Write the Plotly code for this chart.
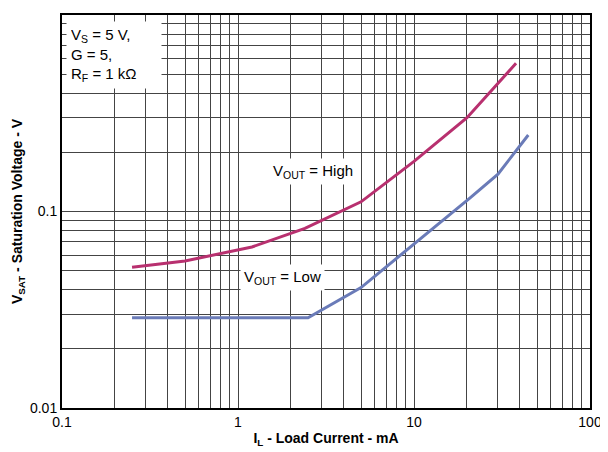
import plotly.graph_objects as go
import numpy as np

# Data
high_current = [0.25, 0.5, 1.2, 2.4, 5.0, 10.0, 20.0, 38.0]
high_vsat = [0.052, 0.056, 0.066, 0.082, 0.112, 0.18, 0.30, 0.568]

low_current = [0.25, 2.5, 5.0, 10.0, 21.0, 30.0, 44.6]
low_vsat = [0.0288, 0.0288, 0.041, 0.068, 0.118, 0.155, 0.245]

x_tickvals = [0.1, 1, 10, 100]
x_ticklabels = ["0.1", "1", "10", "100"]
y_tickvals = [0.01, 0.1, 1]
y_ticklabels = ["0.01", "0.1", "1"]

def minor_vals(lo_exp, hi_exp):
    return [m * 10.0 ** e for e in range(lo_exp, hi_exp) for m in range(2, 10)]

grid_col = "#444444"
font_fam = "Liberation Sans, Arial, sans-serif"

fig = go.Figure()
fig.add_trace(go.Scatter(x=high_current, y=high_vsat, mode="lines",
                         line=dict(color="#B8306F", width=3),
                         showlegend=False))
fig.add_trace(go.Scatter(x=low_current, y=low_vsat, mode="lines",
                         line=dict(color="#6A7BB8", width=3),
                         showlegend=False))

# page body has an 8px margin, so the figure is 600x444 placed at (8, 8)
fig.update_layout(
    width=600, height=444,
    margin=dict(l=54, r=18, t=7, b=44),
    paper_bgcolor="white", plot_bgcolor="white",
    font=dict(family=font_fam, size=14, color="black"),
    xaxis=dict(type="log", range=[-1, 2], tickvals=x_tickvals, ticktext=x_ticklabels,
               showgrid=True, gridcolor=grid_col, gridwidth=1,
               minor=dict(tickvals=minor_vals(-1, 2), showgrid=True,
                          gridcolor=grid_col, gridwidth=1, ticks=""),
               showline=True, linecolor="black", linewidth=2, mirror=True,
               ticks="", zeroline=False, automargin=False,
               title=dict(text="<b>I<sub>L</sub> - Load Current - mA</b>",
                          font=dict(size=14), standoff=4)),
    yaxis=dict(type="log", range=[-2, 0], tickvals=y_tickvals, ticktext=y_ticklabels,
               showgrid=True, gridcolor=grid_col, gridwidth=1,
               minor=dict(tickvals=minor_vals(-2, 0), showgrid=True,
                          gridcolor=grid_col, gridwidth=1, ticks=""),
               showline=True, linecolor="black", linewidth=2, mirror=True,
               ticks="", zeroline=False, automargin=False,
               title=dict(text="<b>V<sub>SAT</sub> - Saturation Voltage - V</b>",
                          font=dict(size=14), standoff=4)),
    annotations=[
        dict(xref="paper", yref="paper", x=0.008, y=0.985, xanchor="left", yanchor="top",
             text="V<sub>S</sub> = 5 V,<br>G = 5,<br>R<sub>F</sub> = 1 kΩ",
             showarrow=False, align="left", bgcolor="white", width=86,
             font=dict(size=15), borderpad=4),
        dict(xref="x", yref="y", x=np.log10(2.67), y=np.log10(0.159),
             text="V<sub>OUT</sub> = High", showarrow=False, bgcolor="white",
             font=dict(size=15), borderpad=3),
        dict(xref="x", yref="y", x=np.log10(1.8), y=np.log10(0.046),
             text="V<sub>OUT</sub> = Low", showarrow=False, bgcolor="white",
             font=dict(size=15), borderpad=3),
    ],
)

fig.write_html("out.html")
